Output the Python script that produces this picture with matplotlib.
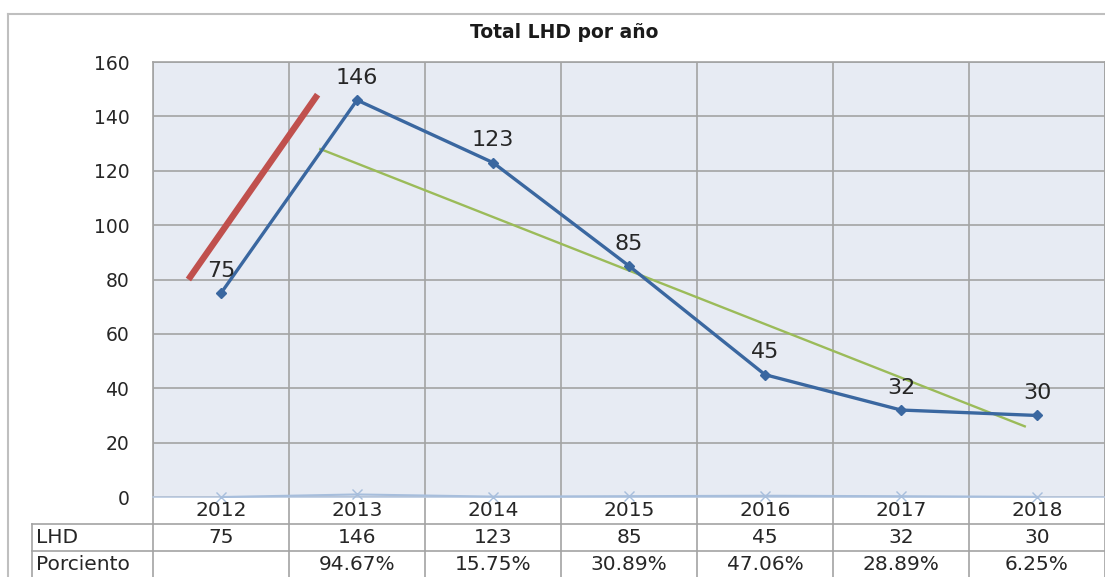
import matplotlib
matplotlib.use("Agg")
import matplotlib.pyplot as plt
import numpy as np

years = ["2012", "2013", "2014", "2015", "2016", "2017", "2018"]
lhd = [75, 146, 123, 85, 45, 32, 30]
porciento = [None, 94.67, 15.75, 30.89, 47.06, 28.89, 6.25]

# hand-drawn shapes on the chart (x in category index, y in LHD)
red_x = [-0.24, 0.71]
red_y = [80, 148]
green_x = [0.73, 5.91]
green_y = [128, 26]

yticks = [0, 20, 40, 60, 80, 100, 120, 140, 160]

BG = "#E7EBF3"
GRID = "#A3A3A3"
BLUE = "#3A67A0"
TXT = "#262626"

fig = plt.figure(figsize=(11.05, 5.77), dpi=100)
ax = fig.add_axes([0.1385, 0.1386, 0.8615, 0.7539])
ax.set_facecolor(BG)

x = np.arange(len(years))
ax.set_xlim(-0.5, len(years) - 0.5)
ax.set_ylim(0, 160)
ax.set_yticks(yticks)
ax.set_xticks(np.arange(-0.5, len(years), 1.0))
ax.set_xticklabels([])
ax.tick_params(length=0, labelsize=13.5, labelcolor=TXT, pad=17)
ax.grid(True, color=GRID, lw=1.2)
ax.set_axisbelow(True)
for s in ax.spines.values():
    s.set_color(GRID)
    s.set_linewidth(1.2)
ax.spines["bottom"].set_color("#B9C9E0")

# porciento series (fraction values, hugging zero)
pct_vals = [(p or 0) / 100 for p in porciento]
ax.plot(x, pct_vals, color="#A7BEDC", lw=1.5, marker="x", ms=7, mew=1, clip_on=False, zorder=3)

ax.plot(red_x, red_y, color="#C0504D", lw=4.6, solid_capstyle="butt", zorder=4)
ax.plot(green_x, green_y, color="#9BBB59", lw=1.7, zorder=4)
ax.plot(x, lhd, color=BLUE, lw=2.4, marker="D", ms=5.5, zorder=5)

for xi, v in zip(x, lhd):
    ax.annotate(str(v), (xi, v), xytext=(0, 16), textcoords="offset points",
                ha="center", va="center", fontsize=16, color=TXT, zorder=6)

fig.text(0.511, 0.943, "Total LHD por año", ha="center", va="center",
         fontsize=13.5, fontweight="bold", color="#1a1a1a")

# data table under the plot
tr = ax.get_xaxis_transform()
row_lines = [-0.062, -0.124]
left_edge = -0.127
bottom = -0.20
for xb in np.arange(-0.5, len(years), 1.0):
    ax.plot([xb, xb], [0, bottom], transform=tr, color=GRID, lw=1.2, clip_on=False)
for yl in row_lines:
    ax.plot([left_edge, 1.0], [yl, yl], transform=ax.transAxes, color=GRID, lw=1.2, clip_on=False)
ax.plot([left_edge, left_edge], [row_lines[0], bottom], transform=ax.transAxes,
        color=GRID, lw=1.2, clip_on=False)

for xi, yr, v, p in zip(x, years, lhd, porciento):
    ax.text(xi, -0.032, yr, transform=tr, ha="center", va="center", fontsize=14.5, color=TXT)
    ax.text(xi, -0.094, str(v), transform=tr, ha="center", va="center", fontsize=14.5, color=TXT)
    if p is not None:
        ax.text(xi, -0.156, f"{p:.2f}%", transform=tr, ha="center", va="center",
                fontsize=14.5, color=TXT)
ax.text(left_edge + 0.004, -0.094, "LHD", transform=ax.transAxes, ha="left", va="center",
        fontsize=14.5, color=TXT)
ax.text(left_edge + 0.004, -0.156, "Porciento", transform=ax.transAxes, ha="left", va="center",
        fontsize=14.5, color=TXT)

# outer chart frame (left and top visible)
fig.add_artist(plt.Line2D([0.0075, 0.0075], [0.0, 0.976], color="#BFBFBF", lw=1.5))
fig.add_artist(plt.Line2D([0.0075, 1.0], [0.976, 0.976], color="#BFBFBF", lw=1.5))

fig.savefig("out.png", dpi=100)
